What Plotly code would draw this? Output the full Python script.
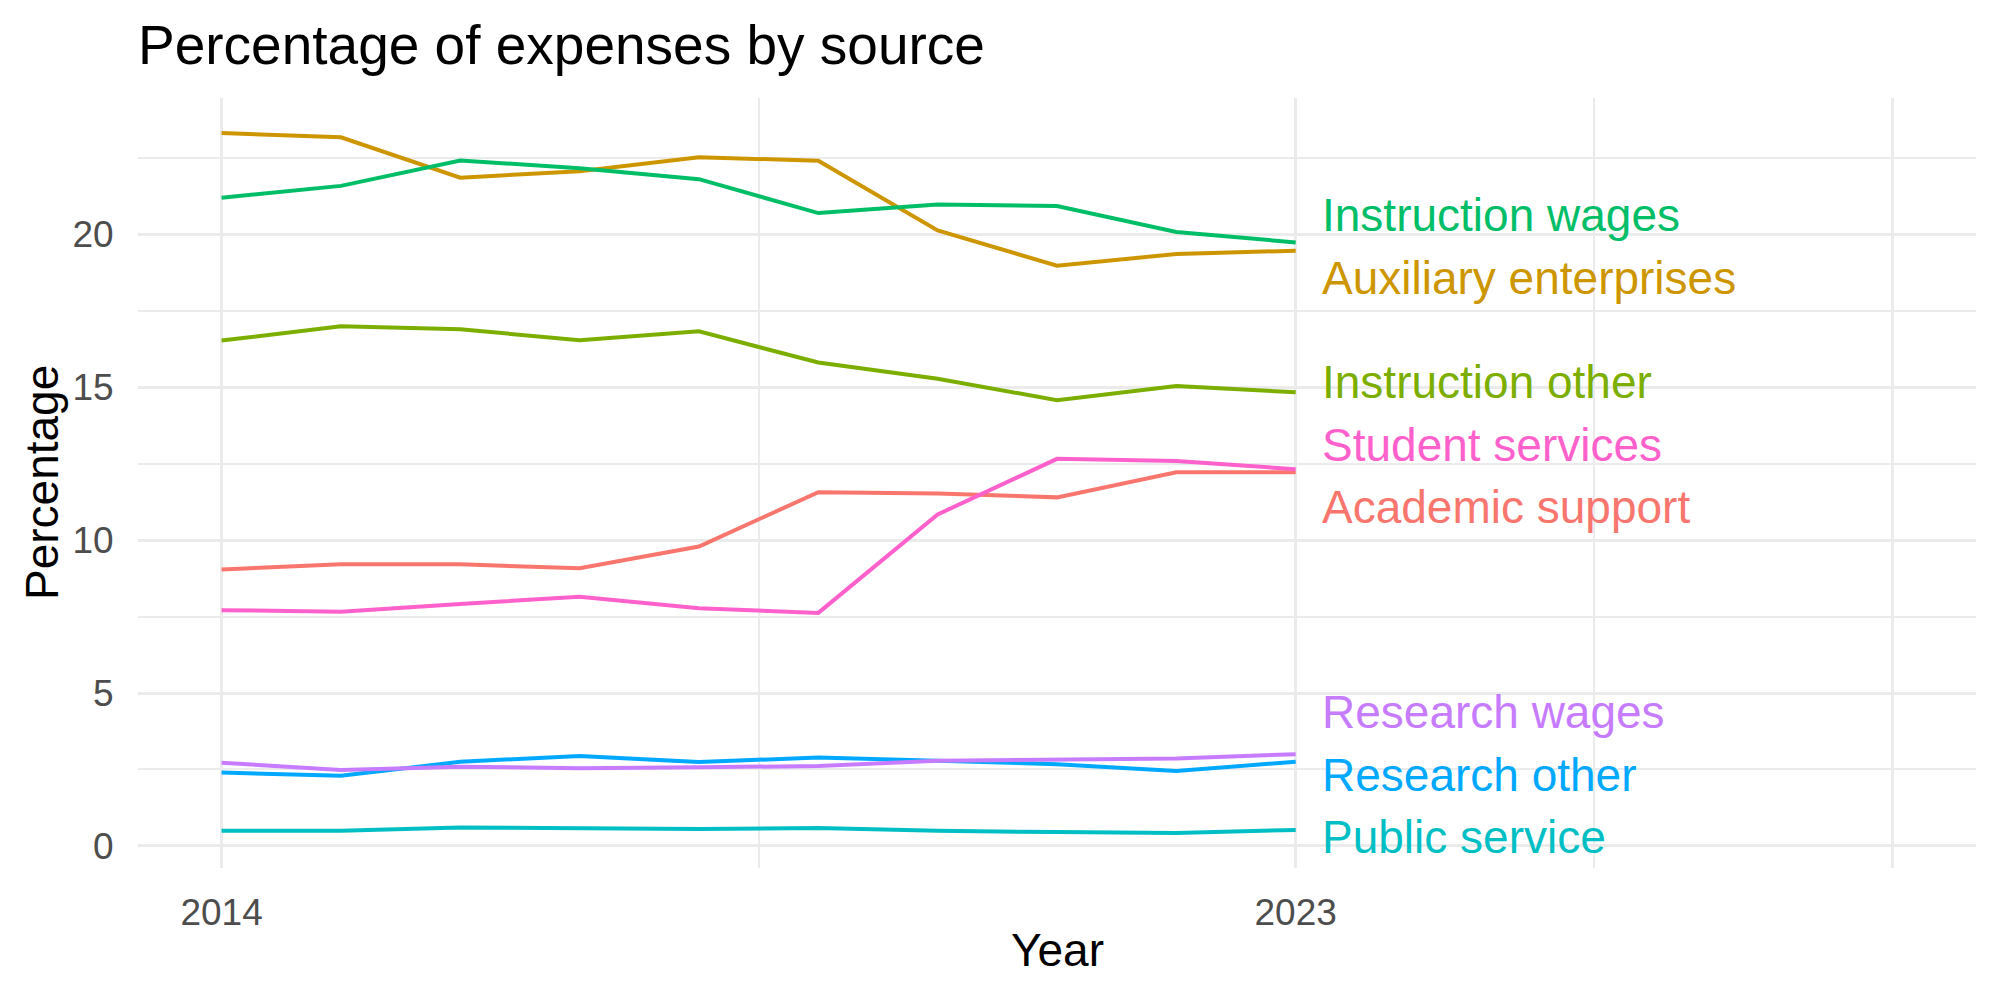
import plotly.graph_objects as go

years = list(range(2014, 2024))

series_names = [
    "Academic support",
    "Auxiliary enterprises",
    "Instruction other",
    "Instruction wages",
    "Public service",
    "Research other",
    "Research wages",
    "Student services",
]
academic_support = [9.04, 9.21, 9.21, 9.08, 9.79, 11.57, 11.53, 11.40, 12.22, 12.22]
auxiliary_enterprises = [23.32, 23.18, 21.86, 22.07, 22.53, 22.41, 20.13, 18.98, 19.36, 19.47]
instruction_other = [16.53, 17.00, 16.90, 16.54, 16.83, 15.81, 15.28, 14.58, 15.04, 14.84]
instruction_wages = [21.20, 21.59, 22.42, 22.17, 21.81, 20.70, 20.98, 20.93, 20.08, 19.74]
public_service = [0.49, 0.49, 0.60, 0.57, 0.55, 0.58, 0.49, 0.45, 0.42, 0.52]
research_other = [2.40, 2.29, 2.75, 2.94, 2.74, 2.89, 2.78, 2.67, 2.45, 2.75]
research_wages = [2.72, 2.48, 2.59, 2.54, 2.57, 2.61, 2.78, 2.83, 2.86, 3.00]
student_services = [7.71, 7.66, 7.91, 8.15, 7.77, 7.62, 10.84, 12.66, 12.59, 12.32]

x_tick_vals = [2014, 2023, 2028]
x_tick_text = ["2014", "2023", ""]
y_tick_vals = [0, 5, 10, 15, 20]
y_tick_text = ["0", "5", "10", "15", "20"]

values = [academic_support, auxiliary_enterprises, instruction_other, instruction_wages,
          public_service, research_other, research_wages, student_services]
colors = ["#F8766D", "#CD9600", "#7CAE00", "#00BE67", "#00BFC4", "#00A9FF", "#C77CFF", "#FF61CC"]

FONT = "Liberation Sans, Arial, Helvetica, sans-serif"
GRID = "#EBEBEB"

# axis limits (ggplot-like 5% expansion)
x_lo, x_hi = 2014, 2028
xr = x_hi - x_lo
x_range = [x_lo - 0.05 * xr, x_hi + 0.05 * xr]
all_vals = [v for s in values for v in s]
y_lo, y_hi = min(all_vals), max(all_vals)
yr = y_hi - y_lo
y_range = [y_lo - 0.05 * yr, y_hi + 0.05 * yr]

fig = go.Figure()
for name, vals, col in zip(series_names, values, colors):
    fig.add_trace(go.Scatter(x=years, y=vals, mode="lines", name=name,
                             line=dict(color=col, width=4), showlegend=False))

# simple label repel for end labels
spacing = 2.05
min_center = y_range[0] + 1.0
order = sorted(range(len(series_names)), key=lambda i: -values[i][-1])
pos = {i: values[i][-1] for i in order}
for _ in range(500):
    moved = False
    for a, b in zip(order[:-1], order[1:]):
        gap = pos[a] - pos[b]
        if gap < spacing - 1e-6:
            push = (spacing - gap) / 2
            pos[a] += push
            pos[b] -= push
            moved = True
    if pos[order[-1]] < min_center:
        pos[order[-1]] = min_center
        moved = True
    if not moved:
        break

for i in order:
    fig.add_annotation(x=years[-1], y=pos[i], xref="x", yref="y", text=series_names[i],
                       showarrow=False, xanchor="left", yanchor="middle", xshift=24,
                       font=dict(family=FONT, size=46, color=colors[i]))

W, H = 2000, 1000
ml, mr, mt, mb = 138, 24, 98, 132
ph = H - mt - mb
pw = W - ml - mr

fig.add_annotation(text="Year", xref="paper", yref="paper", x=0.5, y=(868 - 950) / ph,
                   showarrow=False, xanchor="center", yanchor="middle",
                   font=dict(family=FONT, size=46, color="black"))
fig.add_annotation(text="Percentage", xref="paper", yref="paper", x=(42 - ml) / pw, y=0.5,
                   showarrow=False, xanchor="center", yanchor="middle", textangle=-90,
                   font=dict(family=FONT, size=46, color="black"))

fig.update_layout(
    width=W, height=H,
    margin=dict(l=ml, r=mr, t=mt, b=mb),
    paper_bgcolor="white", plot_bgcolor="white",
    title=dict(text="Percentage of expenses by source", x=ml / W, xanchor="left",
               xref="container", y=1 - 45 / H, yanchor="middle", yref="container",
               font=dict(family=FONT, size=55, color="black")),
    xaxis=dict(range=x_range, tickvals=x_tick_vals, ticktext=x_tick_text,
               showgrid=True, gridcolor=GRID, gridwidth=3, zeroline=False,
               showline=False, ticks="outside", ticklen=12, tickcolor="rgba(0,0,0,0)",
               tickfont=dict(family=FONT, size=37, color="#4D4D4D"),
               minor=dict(tickvals=[2018.5, 2025.5], showgrid=True, gridcolor=GRID,
                          gridwidth=1.8, ticks="")),
    yaxis=dict(range=y_range, tickvals=y_tick_vals, ticktext=y_tick_text,
               showgrid=True, gridcolor=GRID, gridwidth=3, zeroline=False,
               showline=False, ticks="outside", ticklen=16, tickcolor="rgba(0,0,0,0)",
               tickfont=dict(family=FONT, size=37, color="#4D4D4D"),
               minor=dict(tickvals=[2.5, 7.5, 12.5, 17.5, 22.5], showgrid=True,
                          gridcolor=GRID, gridwidth=1.8, ticks="")),
)

fig.write_html("out.html")
